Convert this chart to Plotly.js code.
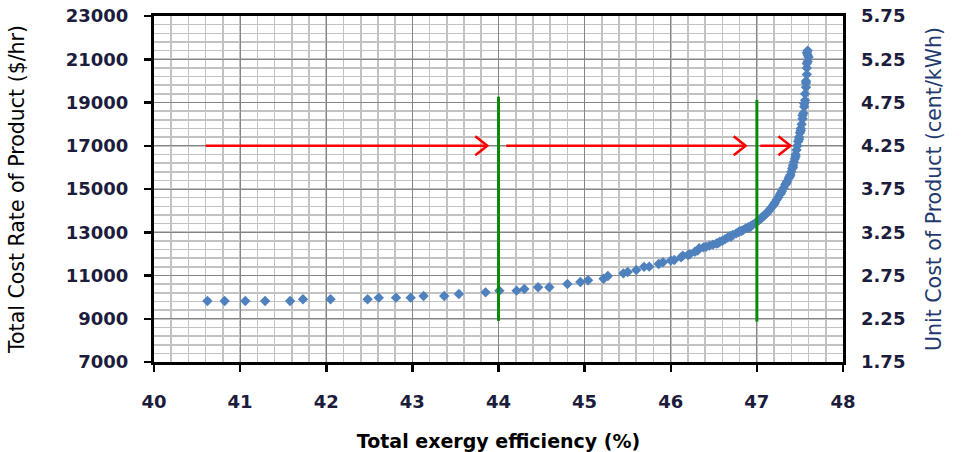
<!DOCTYPE html>
<html><head><meta charset="utf-8">
<script src="https://cdn.plot.ly/plotly-3.0.1.min.js"></script>
<style>html,body{margin:0;padding:0;background:#fff}#chart{width:963px;height:452px}</style>
</head><body><div id="chart"></div>
<script>
// Total exergy efficiency (%)
const efficiency = [
  40.62, 40.82, 41.06, 41.29, 41.58, 41.73, 42.05, 42.48, 42.61, 42.81,
  42.98, 43.13, 43.37, 43.54, 43.85, 44.01, 44.21, 44.30, 44.46, 44.59,
  44.80, 44.95, 45.04, 45.22, 45.27, 45.45, 45.50, 45.60, 45.69, 45.75,
  45.86, 45.91, 46.00, 46.04, 46.12, 46.14, 46.20, 46.22, 46.28, 46.31,
  46.33, 46.38, 46.41, 46.45, 46.49, 46.53, 46.55, 46.57, 46.60, 46.63,
  46.66, 46.69, 46.70, 46.72, 46.76, 46.79, 46.80, 46.82, 46.84, 46.87,
  46.90, 46.92, 46.93, 46.95, 46.98, 47.00, 47.03, 47.05, 47.06, 47.08,
  47.10, 47.11, 47.13, 47.15, 47.17, 47.19, 47.20, 47.21, 47.23, 47.25,
  47.27, 47.28, 47.29, 47.31, 47.33, 47.34, 47.35, 47.37, 47.38, 47.39,
  47.40, 47.41, 47.42, 47.42, 47.43, 47.44, 47.45, 47.45, 47.46, 47.47,
  47.48, 47.49, 47.49, 47.50, 47.51, 47.51, 47.52, 47.53, 47.53, 47.54,
  47.55, 47.55, 47.56, 47.56, 47.57, 47.57, 47.57, 47.58, 47.58, 47.58,
  47.59, 47.60, 47.59, 47.58, 47.59
];
// Total cost rate of product ($/hr)
const costRate = [
  9820, 9820, 9820, 9820, 9820, 9900, 9900, 9900, 9975, 9975,
  9975, 10050, 10050, 10145, 10220, 10300, 10300, 10375, 10455, 10455,
  10605, 10700, 10780, 10850, 10975, 11100, 11160, 11255, 11400, 11410,
  11530, 11610, 11690, 11720, 11840, 11920, 11950, 11980, 12100, 12150,
  12260, 12300, 12330, 12380, 12430, 12480, 12500, 12560, 12610, 12680,
  12750, 12820, 12790, 12870, 12950, 13010, 13050, 13060, 13100, 13180,
  13230, 13230, 13290, 13340, 13420, 13480, 13570, 13640, 13700, 13750,
  13840, 13870, 13950, 14050, 14150, 14250, 14300, 14380, 14500, 14620,
  14760, 14820, 14900, 15050, 15200, 15250, 15350, 15500, 15580, 15650,
  15800, 15950, 16000, 16100, 16250, 16400, 16500, 16600, 16800, 17000,
  17200, 17300, 17400, 17600, 17700, 17800, 18000, 18250, 18400, 18500,
  18800, 18950, 19100, 19400, 19700, 19900, 20000, 20300, 20600, 20800,
  20900, 21100, 21200, 21300, 21400
];
const xTicks = [40, 41, 42, 43, 44, 45, 46, 47, 48];
const costTicks = [7000, 9000, 11000, 13000, 15000, 17000, 19000, 21000, 23000];
const unitCostTicks = [1.75, 2.25, 2.75, 3.25, 3.75, 4.25, 4.75, 5.25, 5.75];

// green marker lines
const guideX = [44, 47];
const guideLow = [8900, 8870];
const guideHigh = [19270, 19120];

// red arrows
const arrowStartX = [40.6, 44.09, 47.04];
const arrowTipX = [43.87, 46.87, 47.39];
const arrowLevel = 17000;

// ---- build traces ----
const HEAD_DX = 0.14, HEAD_DY = 440;
const guideXs = [], guideYs = [];
guideX.forEach((x, i) => { guideXs.push(x, x, null); guideYs.push(guideLow[i], guideHigh[i], null); });
const arrXs = [], arrYs = [];
arrowStartX.forEach((x0, i) => {
  const x1 = arrowTipX[i];
  arrXs.push(x0, x1, null, x1 - HEAD_DX, x1, x1 - HEAD_DX, null);
  arrYs.push(arrowLevel, arrowLevel, null, arrowLevel + HEAD_DY, arrowLevel, arrowLevel - HEAD_DY, null);
});

const traces = [
  { type: 'scatter', mode: 'markers', x: efficiency, y: costRate, hoverinfo: 'x+y',
    marker: { symbol: 'diamond', size: 8, color: '#4f81bd' }, showlegend: false },
  { type: 'scatter', mode: 'lines', x: guideXs, y: guideYs, hoverinfo: 'skip',
    line: { color: '#0a8a0a', width: 3 }, showlegend: false },
  { type: 'scatter', mode: 'lines', x: arrXs, y: arrYs, hoverinfo: 'skip',
    line: { color: '#ff0000', width: 2.5 }, showlegend: false },
  { type: 'scatter', mode: 'markers', x: [xTicks[0]], y: [unitCostTicks[0]], yaxis: 'y2',
    marker: { opacity: 0 }, hoverinfo: 'skip', showlegend: false }
];

const tickFont = { family: 'DejaVu Sans', size: 18, weight: 'bold', color: '#1c1c3c' };

const layout = {
  width: 963, height: 452,
  margin: { l: 154, r: 120, t: 16, b: 90 },
  paper_bgcolor: '#ffffff', plot_bgcolor: '#ffffff',
  showlegend: false,
  xaxis: {
    range: [40, 48], tickvals: xTicks, ticktext: xTicks.map(String),
    showgrid: true, gridcolor: '#858585', gridwidth: 1,
    minor: { dtick: 0.2, tick0: 40, showgrid: true, gridcolor: '#c2c2c2', gridwidth: 1.6 },
    showline: true, linecolor: '#000', linewidth: 3, mirror: true,
    ticks: 'outside', ticklen: 7, tickwidth: 2.5, tickcolor: '#000',
    tickfont: tickFont, ticklabelstandoff: 14, zeroline: false,
    title: { text: 'Total exergy efficiency (%)', standoff: 30,
      font: { family: 'DejaVu Sans', size: 19, weight: 'bold', color: '#000' } }
  },
  yaxis: {
    range: [7000, 23000], tickvals: costTicks, ticktext: costTicks.map(String),
    showgrid: true, gridcolor: '#858585', gridwidth: 1,
    minor: { dtick: 400, tick0: 7000, showgrid: true, gridcolor: '#c2c2c2', gridwidth: 1.6 },
    showline: true, linecolor: '#000', linewidth: 3, mirror: true,
    ticks: 'outside', ticklen: 7, tickwidth: 2.5, tickcolor: '#000',
    tickfont: tickFont, ticklabelstandoff: 12, zeroline: false,
    title: { text: 'Total Cost Rate of Product ($/hr)', standoff: 36,
      font: { family: 'DejaVu Sans', size: 20.5, color: '#000' } }
  },
  yaxis2: {
    overlaying: 'y', side: 'right', anchor: 'x',
    range: [1.75, 5.75], tickvals: unitCostTicks, ticktext: unitCostTicks.map(v => v.toFixed(2)),
    showgrid: false, zeroline: false, showline: false, ticks: '',
    tickfont: tickFont, ticklabelstandoff: 17,
    title: { text: 'Unit Cost of Product (cent/kWh)', standoff: 22,
      font: { family: 'DejaVu Sans', size: 20.5, color: '#1f3a6e' } }
  }
};

Plotly.newPlot('chart', traces, layout, { displayModeBar: false, staticPlot: true });
</script>
</body></html>
